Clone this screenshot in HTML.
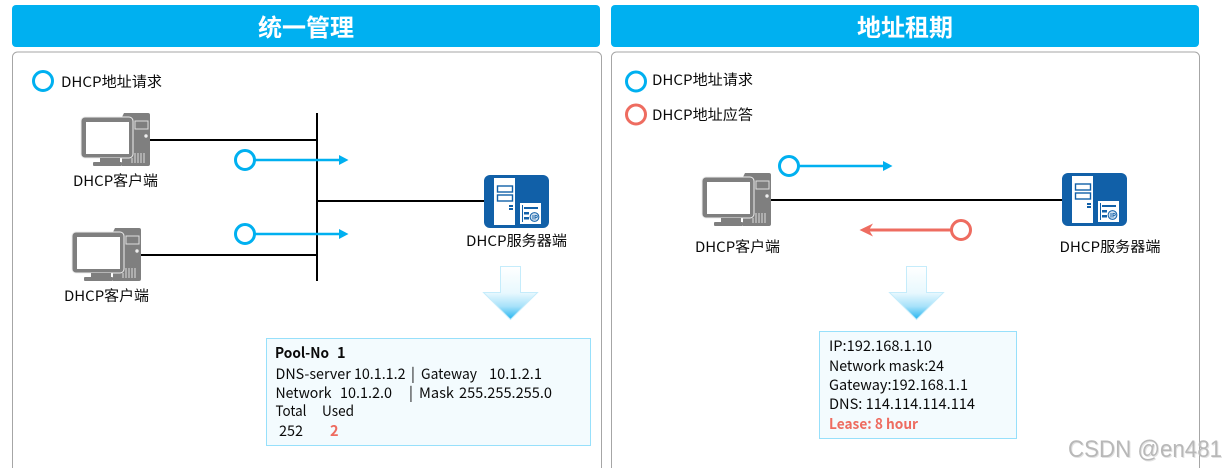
<!DOCTYPE html>
<html lang="zh">
<head>
<meta charset="utf-8">
<style>
html,body{margin:0;padding:0;background:#fff;width:1226px;height:468px;overflow:hidden}
svg{display:block}
text{font-family:"Noto Sans CJK SC","Liberation Sans",sans-serif;fill:#0a0a0a;font-size:14.5px}
.h{font-size:24px;font-weight:700;fill:#fff;text-anchor:middle}
.b{font-weight:700}
.r{fill:#ee6c60;font-weight:700}
.w{font-family:"Liberation Sans",sans-serif;font-size:24px;fill:#b8b8b8}
.w2{font-family:"Liberation Sans",sans-serif;font-size:24px;fill:#e2e2e2}
</style>
</head>
<body>
<svg width="1226" height="468" viewBox="0 0 1226 468" xmlns="http://www.w3.org/2000/svg">
<defs>
<linearGradient id="g" x1="0" y1="0" x2="0" y2="1">
<stop offset="0" stop-color="#ffffff"/><stop offset=".5" stop-color="#e8f8fe"/><stop offset=".75" stop-color="#a8e2fa"/><stop offset="1" stop-color="#22b4f0"/>
</linearGradient>
<g id="pc">
<path d="M124 113h24a2 2 0 0 1 2 2v49a2 2 0 0 1-2 2h-26v-49z" fill="#7f7f7f"/>
<rect x="135" y="121" width="13" height="8" fill="#7f7f7f" stroke="#ddd" stroke-width="1"/>
<circle cx="146" cy="136" r="1.700" fill="#eee"/>
<g stroke="#ddd" stroke-width="1"><path d="M135 153v10M138 153v10M141 153v10M144 153v10M132 158v5"/></g>
<rect x="81" y="117" width="52" height="41" rx="4" fill="#7f7f7f" stroke="#ececec" stroke-width="1"/>
<rect x="86" y="122" width="43" height="32" fill="#fff"/>
<rect x="100" y="158" width="20" height="4" fill="#7f7f7f"/>
<rect x="93" y="162" width="29" height="4" rx="1" fill="#7f7f7f"/>
</g>
<g id="srv">
<rect x="484" y="175" width="65" height="53" rx="6" fill="#1160a8"/>
<rect x="494" y="178" width="21" height="47" fill="#fff"/>
<rect x="497.500" y="186" width="15" height="6" fill="#fff" stroke="#1160a8" stroke-width="1.400"/>
<rect x="497.500" y="195" width="15" height="6" fill="#fff" stroke="#1160a8" stroke-width="1.400"/>
<rect x="509" y="205" width="4" height="2" fill="#1160a8"/>
<rect x="509" y="208" width="4" height="2" fill="#1160a8"/>
<rect x="520" y="203" width="21" height="21" fill="#fff"/>
<path d="M522.500 205v17" stroke="#1160a8" stroke-width="1"/>
<rect x="524" y="207" width="14" height="2" fill="#1160a8"/>
<rect x="524" y="212" width="5" height="2.500" fill="#1160a8"/>
<rect x="524" y="217" width="5" height="2.500" fill="#1160a8"/>
<circle cx="534.500" cy="217" r="4.400" fill="#cfe0f0" stroke="#1160a8" stroke-width="1"/>
<text x="532" y="219.500" style="font-size:6px;fill:#1160a8;font-weight:700">IP</text>
</g>
<path id="down" d="M500.500 266.500h20v26h17l-27 27-27-27h17z" fill="url(#g)" stroke="#c5ecfb" stroke-width="1"/>
</defs>

<rect width="1226" height="468" fill="#fff"/>

<!-- Headers -->
<rect x="12" y="5" width="588" height="42" rx="4" fill="#00b0f0"/>
<rect x="611" y="5" width="588" height="42" rx="4" fill="#00b0f0"/>
<text class="h" x="306" y="36" textLength="96" lengthAdjust="spacingAndGlyphs">统一管理</text>
<text class="h" x="905" y="36" textLength="96" lengthAdjust="spacingAndGlyphs">地址租期</text>

<!-- Panels -->
<path d="M12.500 475V57a5 5 0 0 1 5-5H596.500a5 5 0 0 1 5 5V475" fill="#fff" stroke="#a6a6a6" stroke-width="1"/>
<path d="M611.500 475V57a5 5 0 0 1 5-5H1194.500a5 5 0 0 1 5 5V475" fill="#fff" stroke="#a6a6a6" stroke-width="1"/>

<!-- Left legend -->
<circle cx="43" cy="81" r="9.500" fill="none" stroke="#00b0f0" stroke-width="3"/>
<text x="61" y="87" textLength="101" lengthAdjust="spacingAndGlyphs">DHCP地址请求</text>

<!-- Left lines -->
<g stroke="#000" stroke-width="2" fill="none">
<path d="M317 113V281"/>
<path d="M150 140H317"/>
<path d="M141 255H317"/>
<path d="M317 201H484"/>
</g>

<use href="#pc"/>
<use href="#pc" transform="translate(-9 115)"/>
<use href="#srv"/>

<text x="73" y="186" textLength="85" lengthAdjust="spacingAndGlyphs">DHCP客户端</text>
<text x="64" y="301" textLength="85" lengthAdjust="spacingAndGlyphs">DHCP客户端</text>
<text x="466" y="246" textLength="101" lengthAdjust="spacingAndGlyphs">DHCP服务器端</text>

<!-- Left blue arrows -->
<path d="M255 160H340" stroke="#00b0f0" stroke-width="2.500"/>
<path d="M339 155L348.500 160L339 165z" fill="#00b0f0"/>
<circle cx="245" cy="160" r="9.500" fill="#fff" stroke="#00b0f0" stroke-width="3"/>
<path d="M255 234H340" stroke="#00b0f0" stroke-width="2.500"/>
<path d="M339 229L348.500 234L339 239z" fill="#00b0f0"/>
<circle cx="245" cy="234" r="9.500" fill="#fff" stroke="#00b0f0" stroke-width="3"/>

<use href="#down"/>

<!-- Pool box -->
<rect x="266.500" y="338.500" width="324" height="107" fill="#f3fbfe" stroke="#97e0fb" stroke-width="1"/>
<text class="b" x="275" y="358" textLength="54" lengthAdjust="spacingAndGlyphs">Pool-No</text>
<text class="b" x="337" y="358">1</text>
<text x="275.500" y="379" textLength="130" lengthAdjust="spacingAndGlyphs">DNS-server 10.1.1.2</text>
<text x="411" y="379">|</text>
<text x="421" y="379" textLength="56" lengthAdjust="spacingAndGlyphs">Gateway</text>
<text x="489" y="379" textLength="53" lengthAdjust="spacingAndGlyphs">10.1.2.1</text>
<text x="275.500" y="398" textLength="56" lengthAdjust="spacingAndGlyphs">Network</text>
<text x="340" y="398" textLength="52" lengthAdjust="spacingAndGlyphs">10.1.2.0</text>
<text x="409" y="398">|</text>
<text x="419" y="398" textLength="35" lengthAdjust="spacingAndGlyphs">Mask</text>
<text x="459" y="398" textLength="93" lengthAdjust="spacingAndGlyphs">255.255.255.0</text>
<text x="275.500" y="416" textLength="31" lengthAdjust="spacingAndGlyphs">Total</text>
<text x="322" y="416" textLength="32" lengthAdjust="spacingAndGlyphs">Used</text>
<text x="279" y="436" textLength="24" lengthAdjust="spacingAndGlyphs">252</text>
<text class="r" x="330" y="436">2</text>

<!-- Right legend -->
<circle cx="636" cy="81.500" r="9.500" fill="none" stroke="#00b0f0" stroke-width="3"/>
<text x="652" y="85" textLength="101" lengthAdjust="spacingAndGlyphs">DHCP地址请求</text>
<circle cx="636" cy="114.500" r="9.500" fill="none" stroke="#ee6c60" stroke-width="3"/>
<text x="652" y="120" textLength="101" lengthAdjust="spacingAndGlyphs">DHCP地址应答</text>

<!-- Right diagram -->
<path d="M771 200H1062" stroke="#000" stroke-width="2"/>
<use href="#pc" transform="translate(621 60)"/>
<use href="#srv" transform="translate(578 -2)"/>
<text x="695" y="252" textLength="85" lengthAdjust="spacingAndGlyphs">DHCP客户端</text>
<text x="1059.500" y="252" textLength="101" lengthAdjust="spacingAndGlyphs">DHCP服务器端</text>

<path d="M799 166H884" stroke="#00b0f0" stroke-width="2.500"/>
<path d="M883 161L892.500 166L883 171z" fill="#00b0f0"/>
<circle cx="789" cy="166" r="9.500" fill="#fff" stroke="#00b0f0" stroke-width="3"/>

<path d="M951 230H864" stroke="#ee6c60" stroke-width="3"/>
<path d="M873 223.500L859.500 230L873 236.500L869 230z" fill="#ee6c60"/>
<circle cx="961" cy="230" r="9.500" fill="#fff" stroke="#ee6c60" stroke-width="3"/>

<use href="#down" transform="translate(406 0)"/>

<!-- Lease box -->
<rect x="819.500" y="331.500" width="197" height="107" fill="#f3fbfe" stroke="#97e0fb" stroke-width="1"/>
<text x="829" y="351" textLength="103" lengthAdjust="spacingAndGlyphs">IP:192.168.1.10</text>
<text x="829" y="371" textLength="115" lengthAdjust="spacingAndGlyphs">Network mask:24</text>
<text x="829" y="390" textLength="139" lengthAdjust="spacingAndGlyphs">Gateway:192.168.1.1</text>
<text x="829" y="409" textLength="146" lengthAdjust="spacingAndGlyphs">DNS: 114.114.114.114</text>
<text class="r" x="829" y="429" textLength="89" lengthAdjust="spacingAndGlyphs">Lease: 8 hour</text>

<!-- Watermark -->
<text class="w2" x="1069" y="458" textLength="154" lengthAdjust="spacingAndGlyphs">CSDN @en481</text>
<text class="w" x="1068" y="457" textLength="154" lengthAdjust="spacingAndGlyphs">CSDN @en481</text>
</svg>
</body>
</html>
